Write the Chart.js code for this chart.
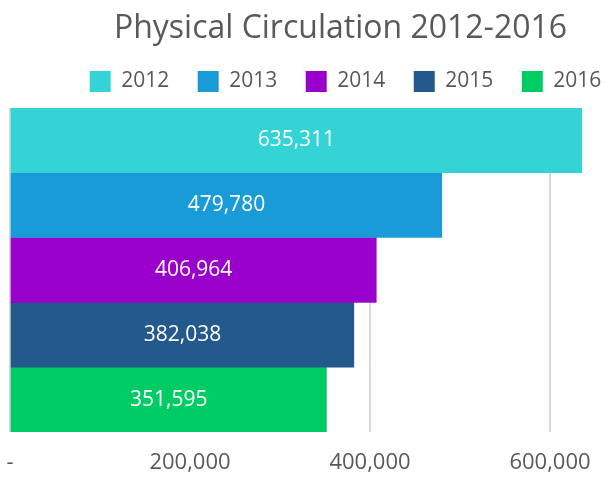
<!DOCTYPE html>
<html>
<head>
<meta charset="utf-8">
<script src="https://cdn.jsdelivr.net/npm/chart.js@4"></script>
<style>
  html, body { margin: 0; padding: 0; background: #fff; }
</style>
</head>
<body>
<canvas id="myChart" width="606" height="479"></canvas>
<script>
const years = ["2012", "2013", "2014", "2015", "2016"];
const circulation = [635311, 479780, 406964, 382038, 351595];
const colors = ["#33D3D6", "#199BD7", "#9A00CC", "#23598C", "#00CC66"];
const tickValues = [0, 200000, 400000, 600000];

const textColor = "#595959";
const fontFamily = "'Open Sans', sans-serif";

// white value labels in the middle of each bar
const barLabels = {
  id: "barLabels",
  afterDatasetsDraw(chart) {
    const ctx = chart.ctx;
    ctx.save();
    ctx.font = "21px " + fontFamily;
    ctx.fillStyle = "#ffffff";
    ctx.textAlign = "center";
    ctx.textBaseline = "middle";
    chart.data.datasets.forEach((ds, i) => {
      chart.getDatasetMeta(i).data.forEach((bar, j) => {
        ctx.fillText(ds.data[j].toLocaleString("en-US"), (bar.x + bar.base) / 2, bar.y);
      });
    });
    ctx.restore();
  }
};

// title and legend sit a bit right of the canvas centre in the original
const shiftHeader = {
  id: "shiftHeader",
  afterLayout(chart) {
    chart.titleBlock.left += 76;
    const lg = chart.legend;
    lg.left += 43;
    lg.right += 43;
    lg.top -= 6;
    lg.bottom -= 6;
  }
};

const data = {
  labels: [""],
  datasets: years.map((y, i) => ({
    label: y,
    data: [circulation[i]],
    backgroundColor: colors[i],
    categoryPercentage: 1,
    barPercentage: 1,
  })),
};

const config = {
  type: "bar",
  data: data,
  options: {
    indexAxis: "y",
    responsive: false,
    animation: false,
    layout: { padding: { left: 10, right: 11, top: 1, bottom: 0 } },
    plugins: {
      title: {
        display: true,
        text: "Physical Circulation 2012-2016",
        color: textColor,
        font: { family: fontFamily, size: 32, weight: "normal" },
        padding: { top: 9, bottom: 0 },
      },
      legend: {
        labels: {
          color: textColor,
          font: { family: fontFamily, size: 21 },
          boxWidth: 21,
          boxHeight: 21,
          padding: 28.5,
        },
      },
      tooltip: { enabled: false },
    },
    scales: {
      x: {
        min: 0,
        max: 650000,
        afterBuildTicks(scale) {
          scale.ticks = tickValues.map(v => ({ value: v }));
        },
        afterFit(scale) {
          scale.paddingLeft = 0;
          scale.paddingRight = 0;
          scale.height = 47;
        },
        grid: { color: "#d9d9d9", lineWidth: 2, drawTicks: false },
        border: { display: false },
        ticks: {
          padding: 18,
          color: textColor,
          maxRotation: 0,
          autoSkip: false,
          font: { family: fontFamily, size: 22 },
          callback: v => (v === 0 ? "-" : v.toLocaleString("en-US")),
        },
      },
      y: { display: false },
    },
  },
  plugins: [barLabels, shiftHeader],
};

const myChart = new Chart(document.getElementById("myChart"), config);
</script>
</body>
</html>
